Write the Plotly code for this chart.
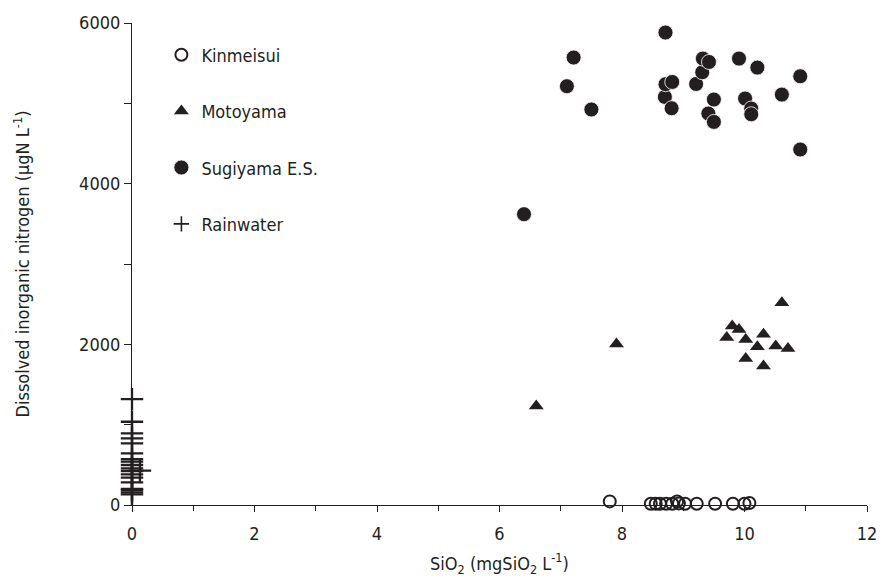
import plotly.graph_objects as go

# Kinmeisui
kin_x = [7.8, 8.47, 8.55, 8.62, 8.72, 8.82, 8.9, 8.93, 9.03, 9.22, 9.52, 9.81, 10.0, 10.08]
kin_y = [45, 15, 15, 15, 15, 15, 45, 20, 15, 15, 15, 15, 15, 25]

# Motoyama
moto_x = [6.6, 7.91, 9.71, 9.8, 9.91, 10.02, 10.02, 10.21, 10.31, 10.31, 10.51, 10.61, 10.71]
moto_y = [1232, 2003, 2086, 2227, 2186, 2061, 1825, 1969, 2127, 1729, 1978, 2517, 1949]

# Sugiyama E.S.
sug_x = [6.4, 7.1, 7.21, 7.5, 8.7, 8.71, 8.71, 8.81, 8.82, 9.21, 9.31, 9.32, 9.41, 9.42,
         9.5, 9.5, 9.91, 10.01, 10.11, 10.11, 10.21, 10.61, 10.91, 10.91]
sug_y = [3620, 5213, 5570, 4923, 5080, 5881, 5238, 4939, 5266, 5241, 5387, 5557, 4873, 5515,
         5047, 4769, 5557, 5060, 4935, 4864, 5445, 5109, 5337, 4425]

# Rainwater
rain_x = [0, 0, 0, 0, 0, 0, 0, 0, 0, 0, 0, 0, 0, 0, 0, 0, 0, 0, 0.13]
rain_y = [1318, 1036, 892, 830, 768, 643, 572, 539, 498, 456, 423, 382, 340, 282, 200, 187,
          158, 133, 427]

x_ticks = [0, 2, 4, 6, 8, 10, 12]
y_ticks = [0, 2000, 4000, 6000]

INK = "#231f20"
FONT = "DejaVu Sans Condensed, DejaVu Sans"

fig = go.Figure()
fig.add_trace(go.Scatter(x=kin_x, y=kin_y, mode="markers", name="Kinmeisui",
                         legendgroup="a", cliponaxis=False,
                         marker=dict(symbol="circle-open", size=12, color=INK,
                                     line=dict(width=2, color=INK))))
fig.add_trace(go.Scatter(x=moto_x, y=moto_y, mode="markers", name="Motoyama",
                         legendgroup="b", cliponaxis=False,
                         marker=dict(symbol="triangle-up", size=13, color=INK)))
fig.add_trace(go.Scatter(x=sug_x, y=sug_y, mode="markers", name="Sugiyama E.S.",
                         legendgroup="c", cliponaxis=False,
                         marker=dict(symbol="circle", size=15, color=INK,
                                     line=dict(width=0.8, color="white"))))
fig.add_trace(go.Scatter(x=rain_x, y=rain_y, mode="markers", name="Rainwater",
                         legendgroup="d", cliponaxis=False, showlegend=False,
                         marker=dict(symbol="cross-thin-open", size=16, color=INK,
                                     line=dict(width=2.3, color=INK))))
# legend entry for rainwater (smaller plus, as in the reference key)
fig.add_trace(go.Scatter(x=[None], y=[None], mode="markers", name="Rainwater",
                         legendgroup="d",
                         marker=dict(symbol="cross-thin-open", size=11, color=INK,
                                     line=dict(width=1.6, color=INK))))

fig.update_layout(
    width=880, height=579,
    margin=dict(l=132, r=13, t=23, b=74),
    paper_bgcolor="white", plot_bgcolor="white",
    font=dict(family=FONT, size=18, color=INK),
    legend=dict(x=0.04, y=0.972, xanchor="left", yanchor="top",
                tracegroupgap=30, bgcolor="rgba(0,0,0,0)",
                font=dict(size=18, color=INK)),
)
fig.update_xaxes(range=[0, 12], tickvals=x_ticks, ticktext=[str(v) for v in x_ticks],
                 automargin=False,
                 showgrid=False, zeroline=False, showline=True, linecolor=INK, linewidth=1.2,
                 ticks="outside", ticklen=6, tickcolor=INK, ticklabelstandoff=6,
                 minor=dict(dtick=1, ticks="outside", ticklen=5, tickcolor=INK, showgrid=False),
                 title=dict(text="SiO<sub>2</sub> (mgSiO<sub>2</sub> L<sup>-1</sup>)",
                            font=dict(size=18), standoff=14))
fig.update_yaxes(range=[0, 6000], tickvals=y_ticks, ticktext=[str(v) for v in y_ticks],
                 automargin=False,
                 showgrid=False, zeroline=False, showline=True, linecolor=INK, linewidth=1.2,
                 ticks="outside", ticklen=7, tickcolor=INK, ticklabelstandoff=0,
                 minor=dict(dtick=1000, ticks="outside", ticklen=7, tickcolor=INK, showgrid=False),
                 title=dict(text="Dissolved inorganic nitrogen (μgN L<sup>-1</sup>)",
                            font=dict(size=18), standoff=44))

fig.write_html("out.html", config={"displayModeBar": False},
               post_script="document.body.style.margin='0';document.body.style.overflow='hidden';")
